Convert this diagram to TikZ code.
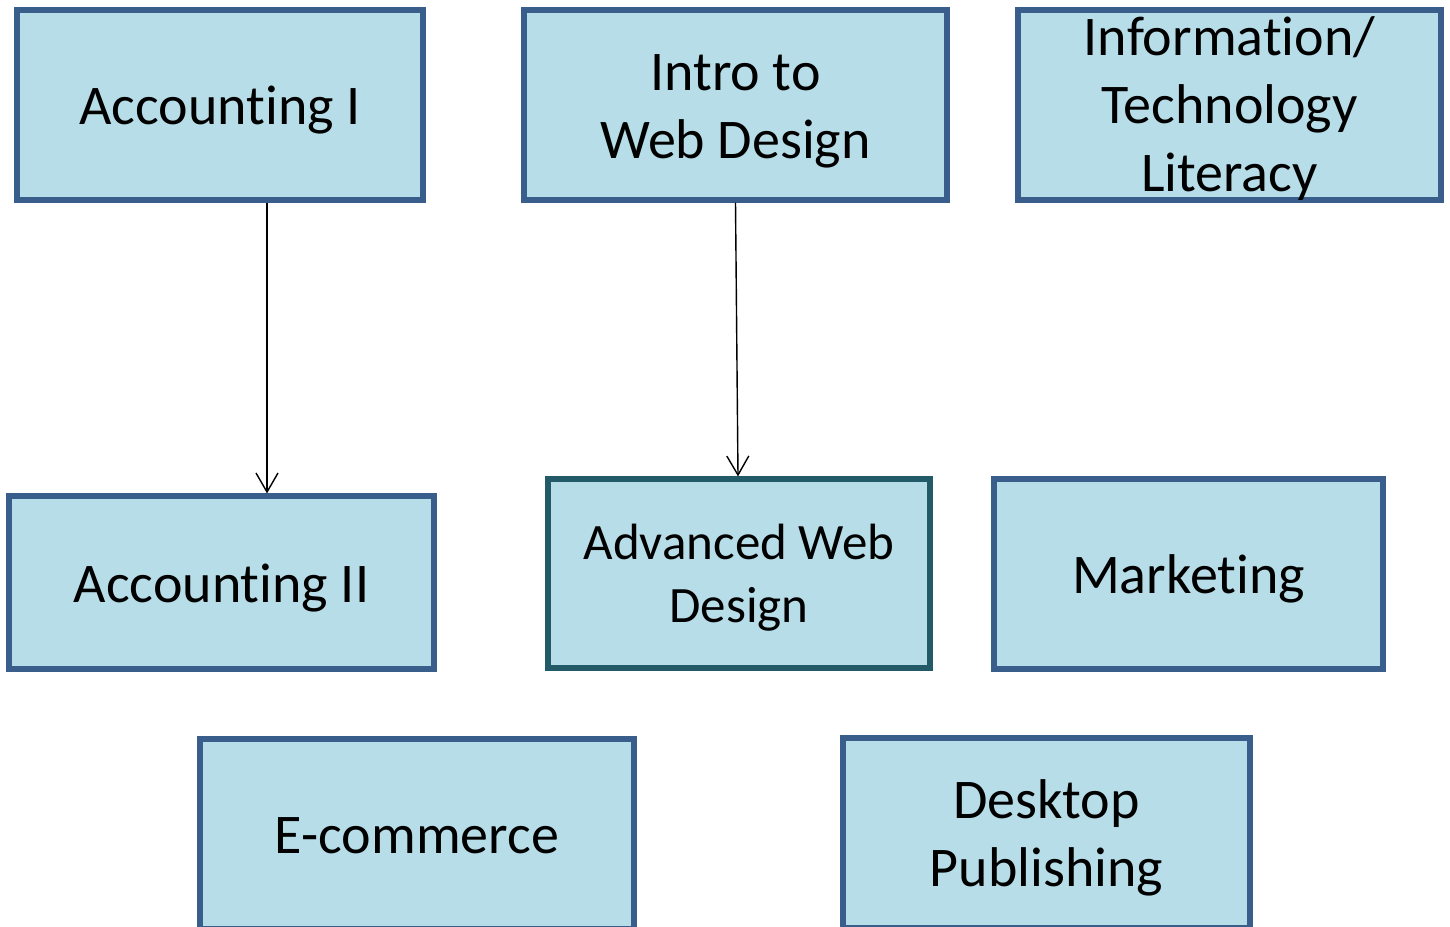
\documentclass[tikz,border=0pt]{standalone}
\usepackage{fontspec}
\setmainfont{Carlito}[Ligatures=CommonOff]
\usepackage{tikz}
\usetikzlibrary{positioning,arrows.meta}

\definecolor{boxfill}{HTML}{B7DDE8}
\definecolor{boxline}{HTML}{3A5E8C}
\definecolor{tealline}{HTML}{235A68}
\newcommand{\cstrut}{\rule[-0.25em]{0pt}{1.2em}}

\begin{document}
\begin{tikzpicture}[x=0.5pt, y=-0.5pt,
  course/.style={draw=boxline, fill=boxfill, line width=2.6pt, inner sep=0pt, align=center, font=\fontsize{28}{34}\selectfont},
  prereq/.style={-{Straight Barb[length=9.5pt,width=11pt]}, line width=0.7pt}]
\useasboundingbox (0,0) rectangle (1450,926);
\node[course, minimum width=203pt, minimum height=95pt] (acc1) at (220,105) {\cstrut Accounting I};
\node[course, minimum width=211.5pt, minimum height=95pt] (intro) at (735.5,105) {\cstrut Intro to\\Web Design\cstrut};
% text runs over the box edges here
\node[course, minimum width=211.5pt, minimum height=95pt] (info) at (1229.5,105) {\rule{0pt}{0.8em}Information/\\Technology\\\raisebox{0pt}[\height][3.5pt]{Literacy}};
\node[course, minimum width=212.5pt, minimum height=86.5pt] (acc2) at (221.5,582.5) {\cstrut Accounting II};
\node[course, draw=tealline, minimum width=191pt, minimum height=94.5pt, font=\fontsize{25.5}{31.5}\selectfont] (adv) at (739,573.5) {\cstrut Advanced Web\\Design\cstrut};
\node[course, minimum width=194.5pt, minimum height=95pt] (mkt) at (1188.5,574) {\cstrut Marketing};
\node[course, minimum width=217pt, minimum height=95pt] (ecom) at (417,834) {\cstrut E-commerce};
\node[course, minimum width=203.5pt, minimum height=95pt] (dtp) at (1046.5,833) {\cstrut Desktop\\Publishing\cstrut};
% prerequisites
\draw[prereq] ([xshift=23.5pt]acc1.south) -- ([xshift=22.75pt]acc2.north);
\draw[prereq] (intro.south) -- ([xshift=-0.5pt]adv.north);
\end{tikzpicture}
\end{document}
